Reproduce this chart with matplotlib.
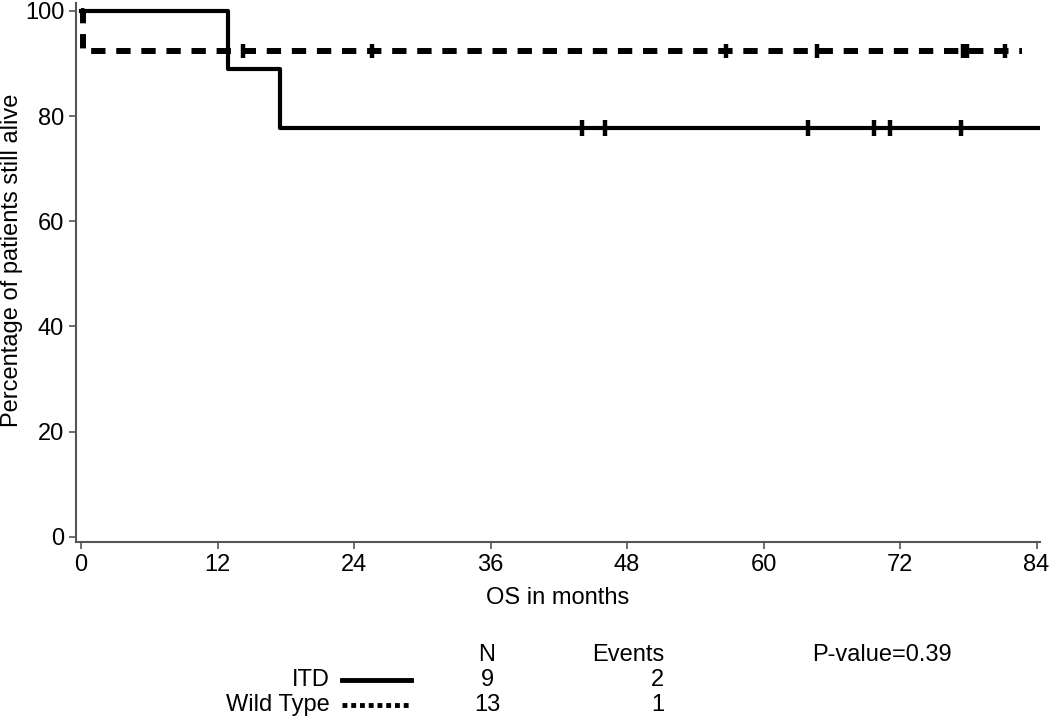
import matplotlib
matplotlib.use("Agg")
import matplotlib.pyplot as plt
from matplotlib.lines import Line2D

plt.rcParams['font.family'] = ['Liberation Sans', 'DejaVu Sans']

# Kaplan-Meier step data (months, % alive)
itd_t = [0, 12.9, 17.5, 84.1]
itd_s = [100, 88.9, 77.8, 77.8]
itd_cens_t = [44.0, 46.1, 63.9, 69.7, 71.1, 77.4]

wt_t = [0, 0.15, 82.7]
wt_s = [100, 92.3, 92.3]
wt_cens_t = [14.2, 25.6, 56.7, 64.7, 77.5, 77.9, 81.2]

xticks = [0, 12, 24, 36, 48, 60, 72, 84]
yticks = [0, 20, 40, 60, 80, 100]

groups = ["ITD", "Wild Type"]
n_vals = [9, 13]
events = [2, 1]
pvalue = "P-value=0.39"

fig = plt.figure(figsize=(10.5, 7.21), dpi=100)
ax = fig.add_axes([0.0724, 0.2483, 0.918, 0.7475])

# solid = ITD, dashed = Wild Type
ax.step(itd_t, itd_s, where='post', color='black', lw=3)
ax.plot(itd_cens_t, [itd_s[-1]] * len(itd_cens_t), ls='none', marker='|',
        ms=11, mew=3.2, color='black')

ax.step(wt_t, wt_s, where='post', color='black', lw=4.3, dashes=(2.4, 1.8))
ax.plot(wt_cens_t, [wt_s[-1]] * len(wt_cens_t), ls='none', marker='|',
        ms=10, mew=3.2, color='black')

ax.set_xlim(-0.44, 84.3)
ax.set_ylim(-1.0, 101.5)
ax.set_xticks(xticks)
ax.set_yticks(yticks)
ax.tick_params(labelsize=17, length=5, width=1.2, color='#555555')
for s in ['top', 'right']:
    ax.spines[s].set_visible(False)
for s in ['left', 'bottom']:
    ax.spines[s].set_color('#555555')
    ax.spines[s].set_linewidth(1.5)

ax.set_xlabel("OS in months", fontsize=17, labelpad=8)
ax.set_ylabel("Percentage of patients still alive", fontsize=17)
ax.yaxis.set_label_coords(-0.055, 0.523)

# table-style legend below the chart
def fx(px):
    return px / 1050.0

def fy(py):
    return 1 - py / 721.0

fs = 17
fig.text(fx(487), fy(655), "N", ha='center', va='center', fontsize=fs)
fig.text(fx(664), fy(655), "Events", ha='right', va='center', fontsize=fs)
fig.text(fx(812), fy(655), pvalue, ha='left', va='center', fontsize=fs)

rows_y = [680, 705]
styles = [dict(lw=3.5, ls='-'), dict(lw=3.5, dashes=(1.0, 0.8))]
for g, n, e, ry, st in zip(groups, n_vals, events, rows_y, styles):
    fig.text(fx(330), fy(ry), g, ha='right', va='center', fontsize=fs)
    fig.add_artist(Line2D([fx(342), fx(411)], [fy(ry), fy(ry)], color='black',
                          transform=fig.transFigure, **st))
    fig.text(fx(487), fy(ry), str(n), ha='center', va='center', fontsize=fs)
    fig.text(fx(664), fy(ry), str(e), ha='right', va='center', fontsize=fs)

fig.savefig("out.png", dpi=100)
